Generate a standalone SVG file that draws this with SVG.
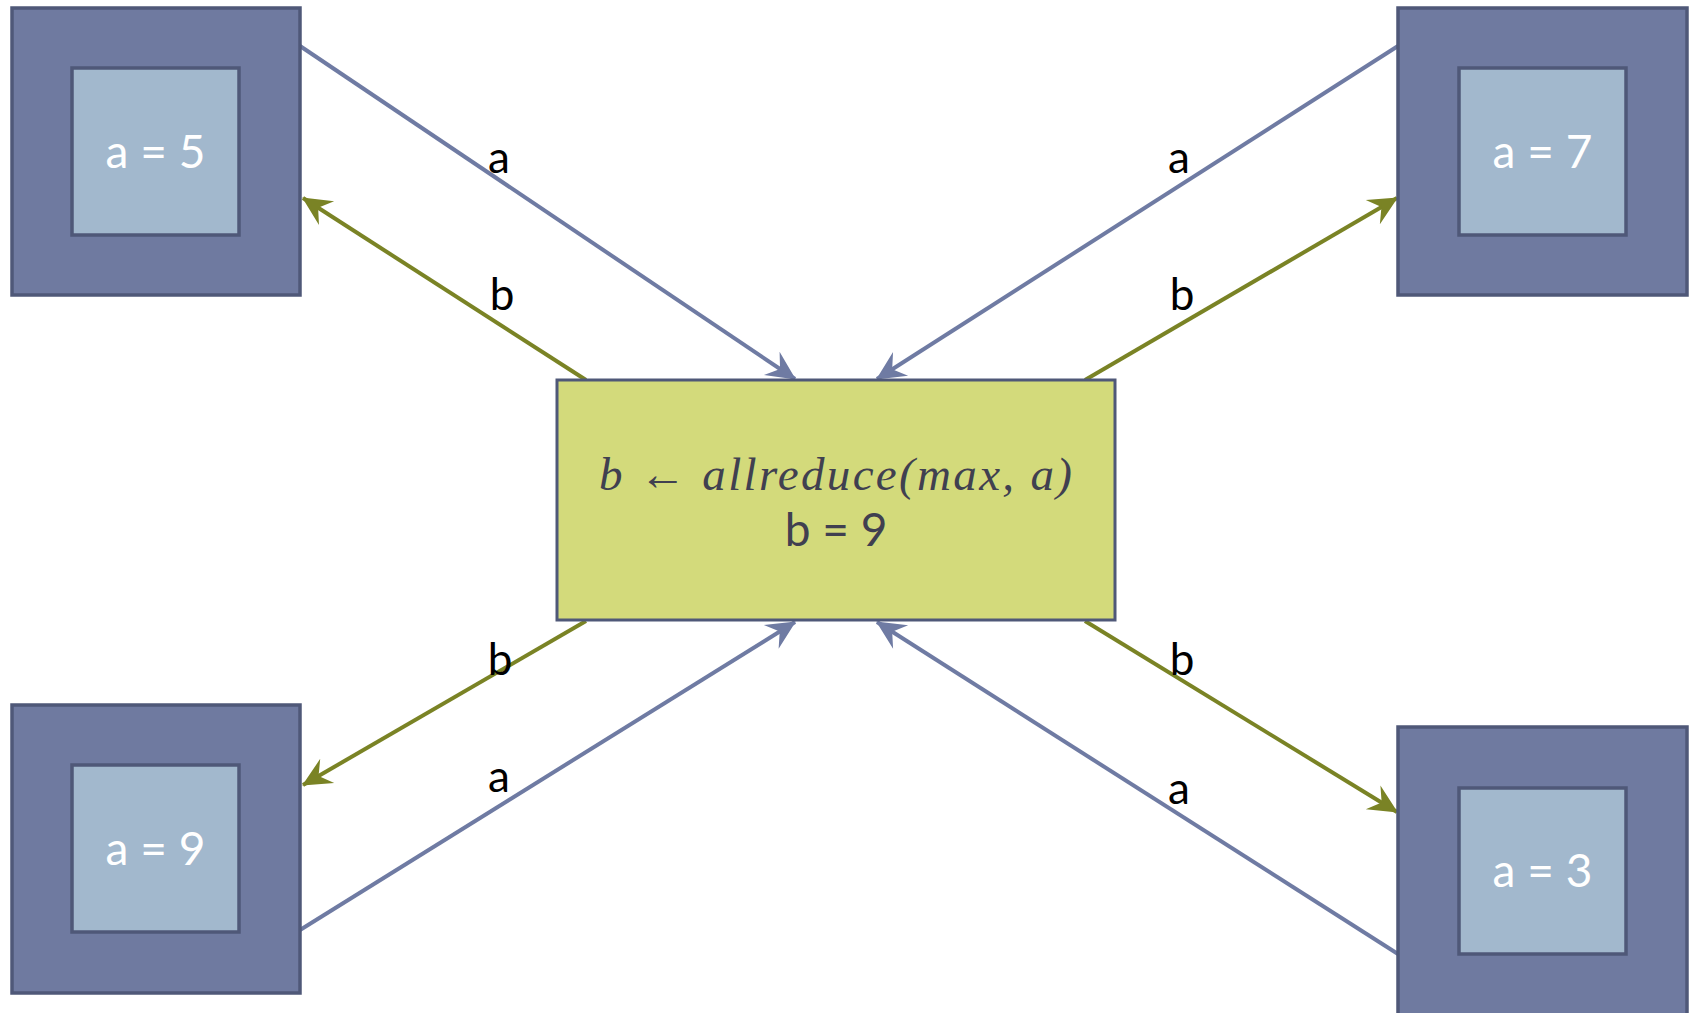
<svg xmlns="http://www.w3.org/2000/svg" width="1692" height="1013" viewBox="0 0 1692 1013">
<defs>
<style>
.outer{fill:#6f7aa0;stroke:#4f5878;stroke-width:3.5}
.inner{fill:#a2b8cd;stroke:#4f5878;stroke-width:3.5}
.center{fill:#d3da7b;stroke:#4f5878;stroke-width:3}
.val{font-family:Lato,"Liberation Sans",sans-serif;font-size:46px;fill:#ffffff;text-anchor:middle}
.lbl{font-family:Lato,"Liberation Sans",sans-serif;font-size:44px;fill:#000000;text-anchor:middle}
.blue{stroke:#6f7ba3;stroke-width:4;fill:none}
.green{stroke:#7a8325;stroke-width:4;fill:none}
</style>
<marker id="ab" markerUnits="userSpaceOnUse" viewBox="-30 -16 32 32" refX="0" refY="0" markerWidth="32" markerHeight="32" orient="auto">
<path d="M1,0 L-28,-14 L-18,0 L-28,14 Z" fill="#6f7ba3"/>
</marker>
<marker id="ag" markerUnits="userSpaceOnUse" viewBox="-30 -16 32 32" refX="0" refY="0" markerWidth="32" markerHeight="32" orient="auto">
<path d="M1,0 L-28,-14 L-18,0 L-28,14 Z" fill="#7a8325"/>
</marker>
</defs>
<rect width="1692" height="1013" fill="#ffffff"/>
<g id="connectors">
<line class="blue" x1="300" y1="46" x2="795" y2="379" marker-end="url(#ab)"/>
<line class="green" x1="586" y1="380" x2="303" y2="198" marker-end="url(#ag)"/>
<line class="blue" x1="1398" y1="46" x2="877" y2="379" marker-end="url(#ab)"/>
<line class="green" x1="1085" y1="380" x2="1397" y2="198" marker-end="url(#ag)"/>
<line class="green" x1="586" y1="621" x2="303" y2="785" marker-end="url(#ag)"/>
<line class="blue" x1="300" y1="930" x2="795" y2="622" marker-end="url(#ab)"/>
<line class="green" x1="1085" y1="621" x2="1397" y2="812" marker-end="url(#ag)"/>
<line class="blue" x1="1398" y1="954" x2="877" y2="622" marker-end="url(#ab)"/>
<text class="lbl" x="499" y="173">a</text>
<text class="lbl" x="502" y="310">b</text>
<text class="lbl" x="1179" y="173">a</text>
<text class="lbl" x="1182" y="310">b</text>
<text class="lbl" x="500" y="675">b</text>
<text class="lbl" x="499" y="792">a</text>
<text class="lbl" x="1182" y="675">b</text>
<text class="lbl" x="1179" y="804">a</text>
</g>
<g id="node-tl">
<rect class="outer" x="12" y="8" width="288" height="287"/>
<rect class="inner" x="72" y="68" width="167" height="167"/>
<text class="val" x="155.5" y="168">a = 5</text>
</g>
<g id="node-tr">
<rect class="outer" x="1398" y="8" width="289" height="287"/>
<rect class="inner" x="1459" y="68" width="167" height="167"/>
<text class="val" x="1542.5" y="168">a = 7</text>
</g>
<g id="node-bl">
<rect class="outer" x="12" y="705" width="288" height="288"/>
<rect class="inner" x="72" y="765" width="167" height="167"/>
<text class="val" x="155.5" y="865">a = 9</text>
</g>
<g id="node-br">
<rect class="outer" x="1398" y="727" width="289" height="290"/>
<rect class="inner" x="1459" y="788" width="167" height="166"/>
<text class="val" x="1542.5" y="887">a = 3</text>
</g>
<g id="node-center">
<rect class="center" x="557" y="380" width="558" height="240"/>
<text x="599" y="490" textLength="473" lengthAdjust="spacing" font-family="'Liberation Serif','DejaVu Serif',serif" font-style="italic" font-size="47" fill="#404050">b ← allreduce(max, a)</text>
<text x="836" y="546" text-anchor="middle" font-family="Lato,'Liberation Sans',sans-serif" font-size="46" fill="#404050">b = 9</text>
</g>
</svg>
